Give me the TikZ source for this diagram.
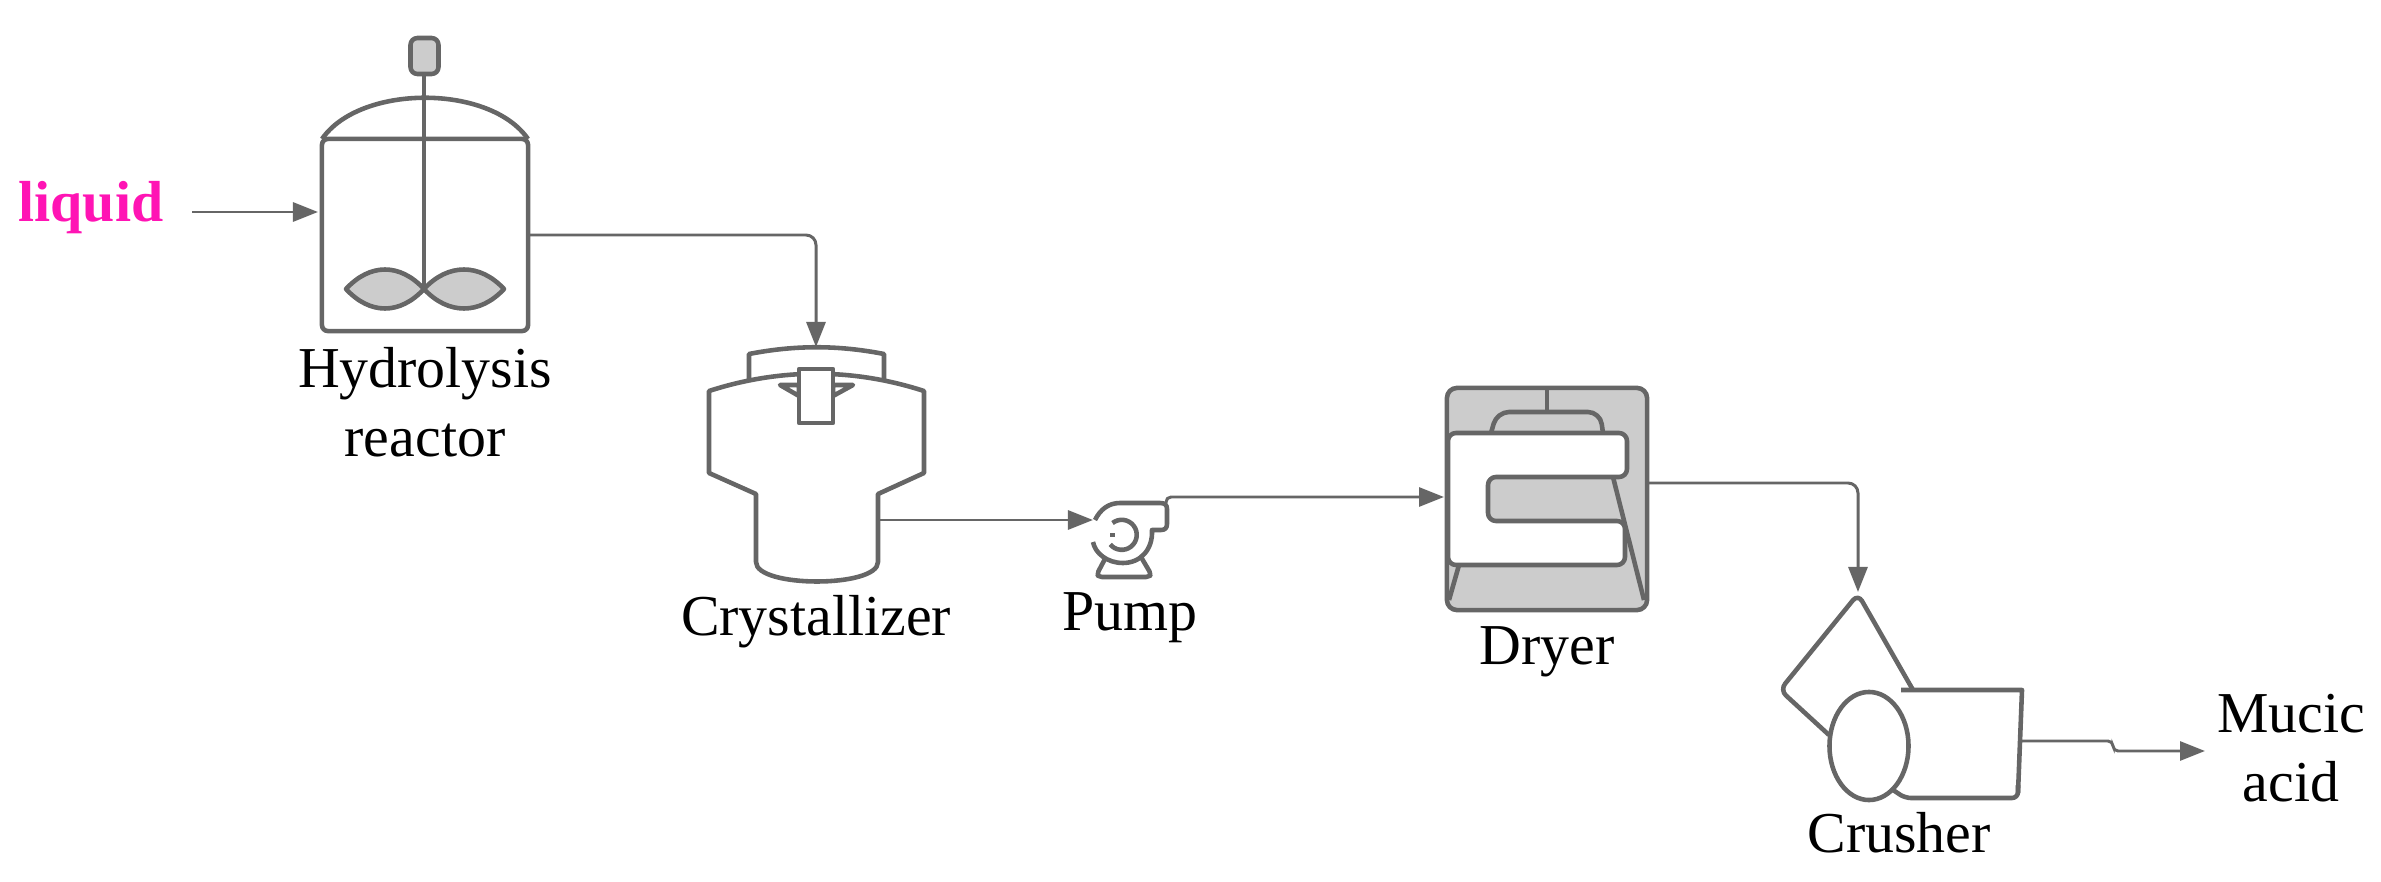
\documentclass[tikz,border=0pt]{standalone}
\usepackage{fontspec}
\setmainfont{Liberation Serif}
\usepackage{tikz}
\usetikzlibrary{arrows.meta,positioning,shapes.geometric}

\definecolor{linegray}{HTML}{666666}
\definecolor{fillgray}{HTML}{CCCCCC}
\definecolor{feedpink}{HTML}{FF14B4}

\tikzset{
  unit/.style={draw=linegray,line width=1.3pt,line join=round},
  flow/.style={draw=linegray,line width=0.85pt,rounded corners=0.1cm,-{Triangle[length=0.25cm,width=0.19cm]}},
  tag/.style={font=\fontsize{16.45}{19.5}\selectfont,align=center,inner sep=0pt,text=black}
}

\begin{document}
\begin{tikzpicture}[x=0.01cm,y=-0.01cm]
    \useasboundingbox (0,0) rectangle (2381,882);

    % draw hydrolysis reactor
    \node[unit,rounded corners=0.06cm,minimum width=2.06cm,minimum height=1.92cm,inner sep=0pt] (reactor) at (425,235) {};
    \draw[unit] (322,139) .. controls (360,84) and (490,84) .. (528,139);
    \draw[unit] (322,139) -- (528,139);
    \draw[unit] (424,74) -- (424,289);
    \node[unit,fill=fillgray,rounded corners=0.07cm,minimum width=0.28cm,minimum height=0.36cm,inner sep=0pt] (motor) at (424.5,56) {};
    \draw[unit,fill=fillgray] (346,289) .. controls (370,263) and (400,263) .. (424,289) .. controls (400,315) and (370,315) .. cycle;
    \draw[unit,fill=fillgray] (504,289) .. controls (480,263) and (448,263) .. (424,289) .. controls (448,315) and (480,315) .. cycle;
    \coordinate (reactorin) at (318,212);
    \coordinate (reactorout) at (529,235);

    % draw crystallizer
    \draw[unit] (749,379) -- (749,354) .. controls (795,345) and (838,345) .. (884,354) -- (884,379);
    \draw[unit] (709,391) .. controls (780,368) and (853,368) .. (924,391) -- (924,473) -- (878,494) -- (878,562)
      .. controls (878,588) and (756,588) .. (756,562) -- (756,494) -- (709,473) -- cycle;
    \draw[unit] (780,385) -- (799,385) -- (799,396) -- cycle;
    \draw[unit] (853,385) -- (833,385) -- (833,396) -- cycle;
    \node[unit,fill=white,minimum width=0.34cm,minimum height=0.54cm,inner sep=0pt] (crystalcore) at (816,396) {};
    \coordinate (crystalin) at (816,347);
    \coordinate (crystalout) at (879,520);

    % draw pump
    \draw[unit] (1095,520) .. controls (1100,510) and (1108,503) .. (1120,503) -- (1160,503)
      .. controls (1165,503) and (1167,505) .. (1167,509) -- (1167,524) .. controls (1167,528) and (1165,530) .. (1161,530)
      -- (1152,530) .. controls (1153,550) and (1140,563) .. (1123,563) .. controls (1107,563) and (1095,553) .. (1093,542);
    \draw[unit] (1112.5,523) arc[start angle=232,end angle=500,radius=15];
    \draw[unit] (1110,535) -- (1115,535);
    \draw[unit,rounded corners=0.03cm] (1106,557) -- (1097,574) -- (1099,577) -- (1149,577) -- (1151,574) -- (1141,557);
    \coordinate (pumpin) at (1093,520);
    \coordinate (pumpout) at (1166,503);

    % draw dryer
    \node[unit,fill=fillgray,rounded corners=0.1cm,minimum width=2cm,minimum height=2.22cm,inner sep=0pt] (dryer) at (1547,499) {};
    \draw[unit] (1613,477) -- (1644,600);
    \draw[unit] (1459,565) -- (1449,600);
    \draw[unit,rounded corners=0.12cm] (1491,433) -- (1497,412) -- (1600,412) -- (1603,433);
    \draw[unit] (1547,388) -- (1547,412);
    \draw[unit,fill=white,rounded corners=0.08cm] (1448,433) -- (1627,433) -- (1627,477) -- (1488,477) -- (1488,521) -- (1625,521) -- (1625,565) -- (1448,565) -- cycle;
    \coordinate (dryerin) at (1444,497);
    \coordinate (dryerout) at (1648,483);

    % draw crusher
    \draw[unit,rounded corners=0.08cm] (1829,735) -- (1780,690) -- (1858,594) -- (1913,690);
    \draw[unit] (1901,690) -- (2022,690) -- (2018,793);
    \draw[unit,rounded corners=0.06cm] (2018,785) -- (2018,798) -- (1905,798) -- (1893,790);
    \node[unit,ellipse,fill=white,minimum width=0.79cm,minimum height=1.08cm,inner sep=0pt] (crusher) at (1869,746) {};
    \coordinate (crusherin) at (1858,592);
    \coordinate (crusherout) at (2021,741);

    % draw labels
    \node[tag,font=\fontsize{16.45}{20}\bfseries\selectfont,text=feedpink] (liquid) at (91,208) {liquid};
    \node[tag] (reactorlabel) at (425,402) {Hydrolysis\\reactor};
    \node[tag] (crystallabel) at (816,622) {Crystallizer};
    \node[tag] (pumplabel) at (1130,618) {Pump};
    \node[tag] (dryerlabel) at (1547,652) {Dryer};
    \node[tag] (crusherlabel) at (1899,833) {Crusher};
    \node[tag] (mucic) at (2291,748) {Mucic\\acid};
    \coordinate (feedstart) at (192,212);
    \coordinate (mucicin) at (2205,751);

    % draw connectors
    \draw[flow] (feedstart) -- (reactorin);
    \draw[flow] (reactorout) -| (crystalin);
    \draw[flow] (crystalout) -- (pumpin);
    \draw[flow,rounded corners=0.05cm] (pumpout) |- (dryerin);
    \draw[flow] (dryerout) -| (crusherin);
    \draw[flow,rounded corners=0.05cm] (crusherout) -- ++(92,0) |- (mucicin);
\end{tikzpicture}
\end{document}
